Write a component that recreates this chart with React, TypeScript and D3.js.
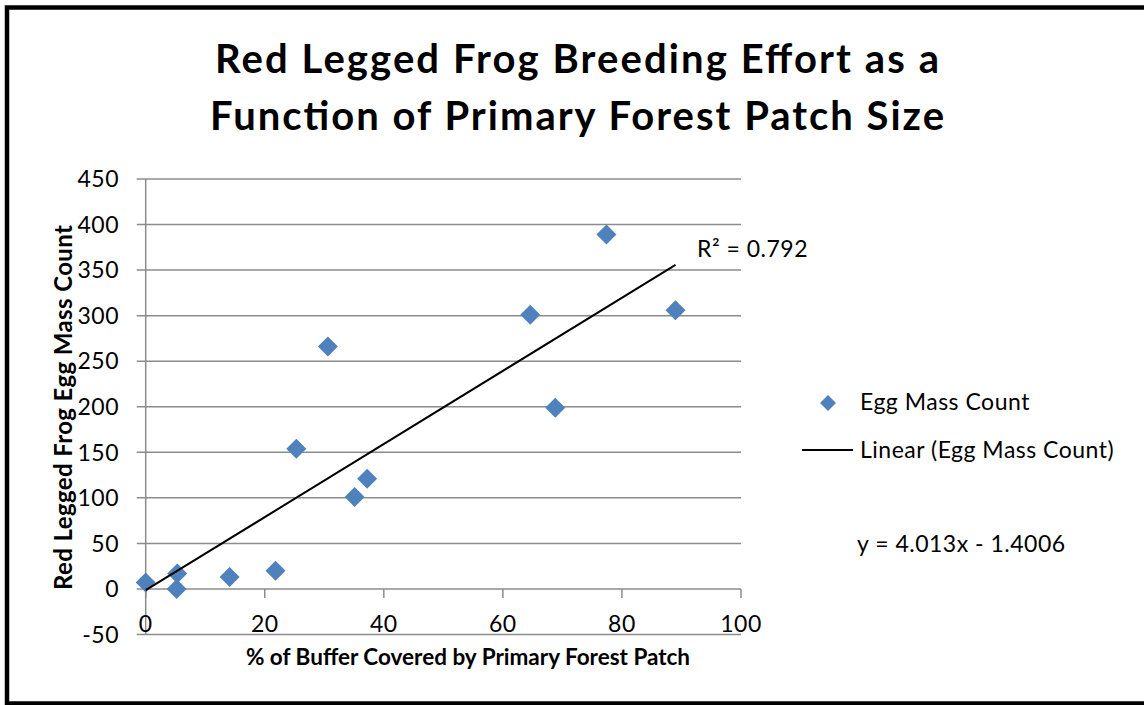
import { scaleLinear, line } from "d3";

const WIDTH = 1144;
const HEIGHT = 705;

// % of buffer covered by primary forest patch
const coverage = [0, 5.3, 5.2, 14.1, 21.8, 25.3, 30.6, 35.1, 37.2, 64.6, 68.8, 77.4, 89.0];
// red legged frog egg mass count
const eggCounts = [7, 17, 0, 13, 20, 154, 266, 101, 121, 301, 199, 389, 306];

const xTicks = [0, 20, 40, 60, 80, 100];
const yTicks = [-50, 0, 50, 100, 150, 200, 250, 300, 350, 400, 450];

const slope = 4.013;
const intercept = -1.4006;
const rSquared = "0.792";

const titleLines = ["Red Legged Frog Breeding Effort as a", "Function of Primary Forest Patch Size"];
const titleWidths = [724, 734];

const FONT = "Lato, 'Open Sans', sans-serif";
const BLUE = "#4F81BD";
const GRID = "#8c8c8c";
const LABEL_SIZE = 23;
const SPACING = 0.5;

export default function App() {
  const x = scaleLinear().domain([0, 100]).range([145.7, 741]);
  const y = scaleLinear().domain([-50, 450]).range([634.5, 179]);

  const pts = coverage.map((c, i) => ({ c, n: eggCounts[i] }));
  const xMax = Math.max(...coverage);
  const trend = line<number>()
    .x((d) => x(d))
    .y((d) => y(slope * d + intercept))([0, xMax]);

  const diamond = (cx: number, cy: number, r: number) =>
    `M${cx},${cy - r}L${cx + r},${cy}L${cx},${cy + r}L${cx - r},${cy}Z`;

  return (
    <svg
      width={WIDTH}
      height={HEIGHT}
      style={{ position: "absolute", left: 0, top: 0, background: "#fff" }}
      fontFamily={FONT}
    >
      <rect x={7} y={7.5} width={1160} height={696} fill="#fff" stroke="#000" strokeWidth={4.5} />

      {titleLines.map((t, i) => (
        <text
          key={t}
          x={577}
          y={73 + i * 57}
          textAnchor="middle"
          fontSize={40}
          fontWeight={700}
          fill="#000"
          textLength={titleWidths[i]}
          lengthAdjust="spacing"
        >
          {t}
        </text>
      ))}

      {/* horizontal gridlines with tick stubs */}
      {yTicks.map((t) => (
        <line key={t} x1={x(0) - 9} x2={x(100)} y1={y(t)} y2={y(t)} stroke={GRID} strokeWidth={1.5} />
      ))}
      {/* y axis */}
      <line x1={x(0)} x2={x(0)} y1={y(450)} y2={y(-50)} stroke={GRID} strokeWidth={1.5} />
      {/* x axis ticks at y=0 */}
      {xTicks.map((t) => (
        <line key={t} x1={x(t)} x2={x(t)} y1={y(0)} y2={y(0) + 9} stroke={GRID} strokeWidth={1.5} />
      ))}

      {yTicks.map((t) => (
        <text key={t} x={119} y={y(t)} dy="0.36em" textAnchor="end" fontSize={LABEL_SIZE} letterSpacing={SPACING} fill="#000">
          {t}
        </text>
      ))}
      {xTicks.map((t) => (
        <text key={t} x={x(t)} y={631.5} textAnchor="middle" fontSize={LABEL_SIZE} letterSpacing={SPACING} fill="#000">
          {t}
        </text>
      ))}

      <text x={468} y={665} textAnchor="middle" fontSize={22.5} fontWeight={700} fill="#000">
        % of Buffer Covered by Primary Forest Patch
      </text>
      <text
        transform={`translate(72,407.5) rotate(-90)`}
        textAnchor="middle"
        fontSize={24}
        fontWeight={700}
        fill="#000"
        textLength={365}
        lengthAdjust="spacing"
      >
        Red Legged Frog Egg Mass Count
      </text>

      {pts.map((p, i) => (
        <path key={i} d={diamond(x(p.c), y(p.n), 10)} fill={BLUE} />
      ))}

      <path d={trend ?? ""} fill="none" stroke="#000" strokeWidth={2} />

      <text x={697} y={257} fontSize={LABEL_SIZE} letterSpacing={SPACING} fill="#000">
        R² = {rSquared}
      </text>

      {/* legend */}
      <path d={diamond(828, 403, 8)} fill={BLUE} />
      <text x={860} y={410} fontSize={LABEL_SIZE} letterSpacing={SPACING} fill="#000">
        Egg Mass Count
      </text>
      <line x1={802} x2={853} y1={450} y2={450} stroke="#000" strokeWidth={2} />
      <text x={860} y={458} fontSize={LABEL_SIZE} letterSpacing={SPACING} fill="#000">
        Linear (Egg Mass Count)
      </text>
      <text x={857} y={552} fontSize={LABEL_SIZE} letterSpacing={SPACING} fill="#000">
        y = {slope}x - {Math.abs(intercept)}
      </text>
    </svg>
  );
}
